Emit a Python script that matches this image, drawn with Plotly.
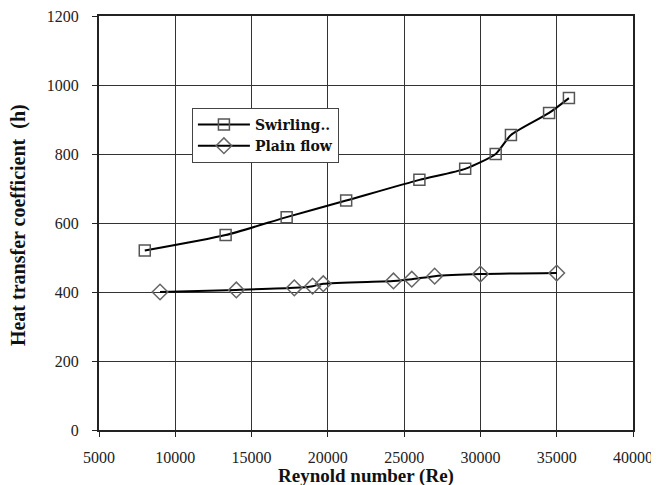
import plotly.graph_objects as go

re_swirl = [8000, 13300, 17300, 21200, 26000, 29000, 31000, 32000, 34500, 35800]
h_swirl = [520, 565, 617, 665, 725, 757, 800, 855, 919, 962]

re_plain = [9000, 14000, 17800, 19000, 19700, 24300, 25500, 27000, 30000, 35000]
h_plain = [400, 406, 412, 417, 424, 432, 437, 446, 452, 455]

x_ticks = [5000, 10000, 15000, 20000, 25000, 30000, 35000, 40000]
y_ticks = [0, 200, 400, 600, 800, 1000, 1200]

FONT = "Liberation Serif"

fig = go.Figure()
fig.add_trace(go.Scatter(
    x=re_swirl, y=h_swirl, name="<b>Swirling..</b>", mode="lines+markers",
    line=dict(color="black", width=2, shape="spline", smoothing=0.6),
    marker=dict(symbol="square-open", size=11, color="#555555", line=dict(width=1.5)),
))
fig.add_trace(go.Scatter(
    x=re_plain, y=h_plain, name="<b>Plain flow</b>", mode="lines+markers",
    line=dict(color="black", width=2, shape="spline", smoothing=0.6),
    marker=dict(symbol="diamond-open", size=12, color="#666666", line=dict(width=1.5)),
))

# page body has an 8px margin, so the figure is 8px smaller and margins shifted
fig.update_layout(
    width=651, height=477,
    margin=dict(l=91, r=26, t=8, b=55, autoexpand=False),
    paper_bgcolor="white", plot_bgcolor="white",
    font=dict(family=FONT, size=16, color="#222222"),
    showlegend=True,
    legend=dict(
        x=0.174, y=0.778, xanchor="left", yanchor="top",
        bgcolor="white", bordercolor="#444444", borderwidth=1,
        font=dict(family="DejaVu Serif", size=14, color="#111111"),
        itemwidth=52, tracegroupgap=0,
    ),
    xaxis=dict(
        range=[5000, 40000], tickvals=x_ticks, ticktext=[str(v) for v in x_ticks],
        showgrid=True, gridcolor="#333333", gridwidth=1,
        showline=True, linecolor="#222222", linewidth=2, mirror=True,
        ticks="outside", ticklen=5, tickcolor="#222222",
        tickfont=dict(family=FONT, size=16, color="#222222"),
        ticklabelstandoff=7, zeroline=False, automargin=False,
        ticklabeloverflow="allow",
    ),
    yaxis=dict(
        range=[0, 1200], tickvals=y_ticks,
        showgrid=True, gridcolor="#333333", gridwidth=1,
        showline=True, linecolor="#222222", linewidth=2, mirror=True,
        ticks="outside", ticklen=5, tickcolor="#222222",
        tickfont=dict(family=FONT, size=16, color="#222222"),
        ticklabelstandoff=10, zeroline=False, automargin=False,
        ticklabeloverflow="allow",
    ),
    annotations=[
        dict(text="<b>Reynold number (Re)</b>", xref="paper", yref="paper",
             x=0.5, y=0, yshift=-46, xanchor="center", yanchor="middle",
             showarrow=False, font=dict(family=FONT, size=19, color="#111111")),
        dict(text="<b>Heat transfer coefficient  (h)</b>", xref="paper", yref="paper",
             x=0, xshift=-81, y=0.495, xanchor="center", yanchor="middle", textangle=-90,
             showarrow=False, font=dict(family=FONT, size=20, color="#111111")),
    ],
)

fig.write_html("out.html")
